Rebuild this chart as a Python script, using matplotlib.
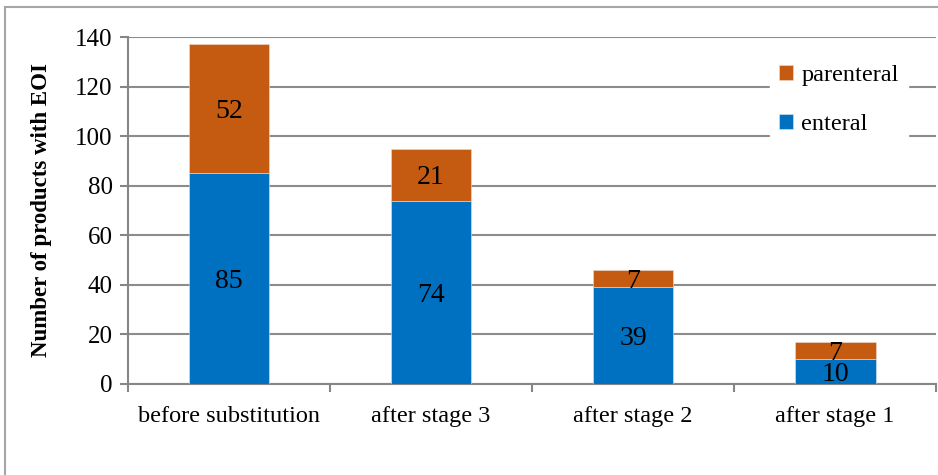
import matplotlib.pyplot as plt
import numpy as np
from matplotlib.lines import Line2D

# data
stages = ['before substitution', 'after stage 3', 'after stage 2', 'after stage 1']
enteral = [85, 74, 39, 10]
parenteral = [52, 21, 7, 7]

plt.rcParams['font.family'] = ['Liberation Serif', 'DejaVu Serif']

fig = plt.figure(figsize=(9.38, 4.75), dpi=100)
ax = fig.add_axes([0.1365, 0.1916, 0.8615, 0.7305])

x = np.arange(len(stages))
blue = '#0070C0'
orange = '#C55A11'
b1 = ax.bar(x, enteral, width=0.4, color=blue, edgecolor='#dce6f0', linewidth=0.4,
            label='enteral', zorder=3)
b2 = ax.bar(x, parenteral, width=0.4, bottom=enteral, color=orange, edgecolor='#f0dcd0',
            linewidth=0.4, label='parenteral', zorder=3)

# value labels centred in each segment
for i in range(len(stages)):
    ax.text(x[i], enteral[i] / 2, str(enteral[i]), ha='center', va='center_baseline',
            fontsize=20, zorder=4)
    ax.text(x[i], enteral[i] + parenteral[i] / 2, str(parenteral[i]), ha='center',
            va='center_baseline', fontsize=20, zorder=4)

ax.set_xlim(-0.5, len(stages) - 0.5)
ax.set_ylim(0, 140)
ax.set_yticks(range(0, 141, 20))
ax.set_xticks(x)
ax.set_xticklabels(stages, fontsize=17.5)
ax.tick_params(axis='x', length=0, pad=16)
ax.set_xticks(np.arange(-0.5, len(stages), 1), minor=True)
ax.tick_params(axis='x', which='minor', length=6, color='#868686', width=1.5)
ax.tick_params(axis='y', labelsize=18, length=6, color='#868686', width=1.5, pad=5)

ax.grid(axis='y', color='#8c8c8c', linewidth=1.5, zorder=0)
for side in ['top', 'right']:
    ax.spines[side].set_visible(False)
for side in ['left', 'bottom']:
    ax.spines[side].set_color('#868686')
    ax.spines[side].set_linewidth(1.5)

ax.set_ylabel('Number of products with EOI', fontsize=16.5, fontweight='bold', labelpad=17)

leg = ax.legend(handles=[b2, b1], loc='upper left', bbox_to_anchor=(0.779, 0.982),
                fontsize=17.5, frameon=True, framealpha=1, edgecolor='white',
                fancybox=False, handlelength=0.55, handleheight=0.55,
                handletextpad=0.35, labelspacing=1.15, borderpad=0.4)
leg.set_zorder(5)

# outer chart frame (top and left edges)
fig.add_artist(Line2D([5 / 938, 1], [1 - 7 / 475, 1 - 7 / 475], color='#a6a6a6', lw=1.5))
fig.add_artist(Line2D([5 / 938, 5 / 938], [0, 1 - 7 / 475], color='#a6a6a6', lw=1.5))

fig.savefig('out.png', dpi=100)
